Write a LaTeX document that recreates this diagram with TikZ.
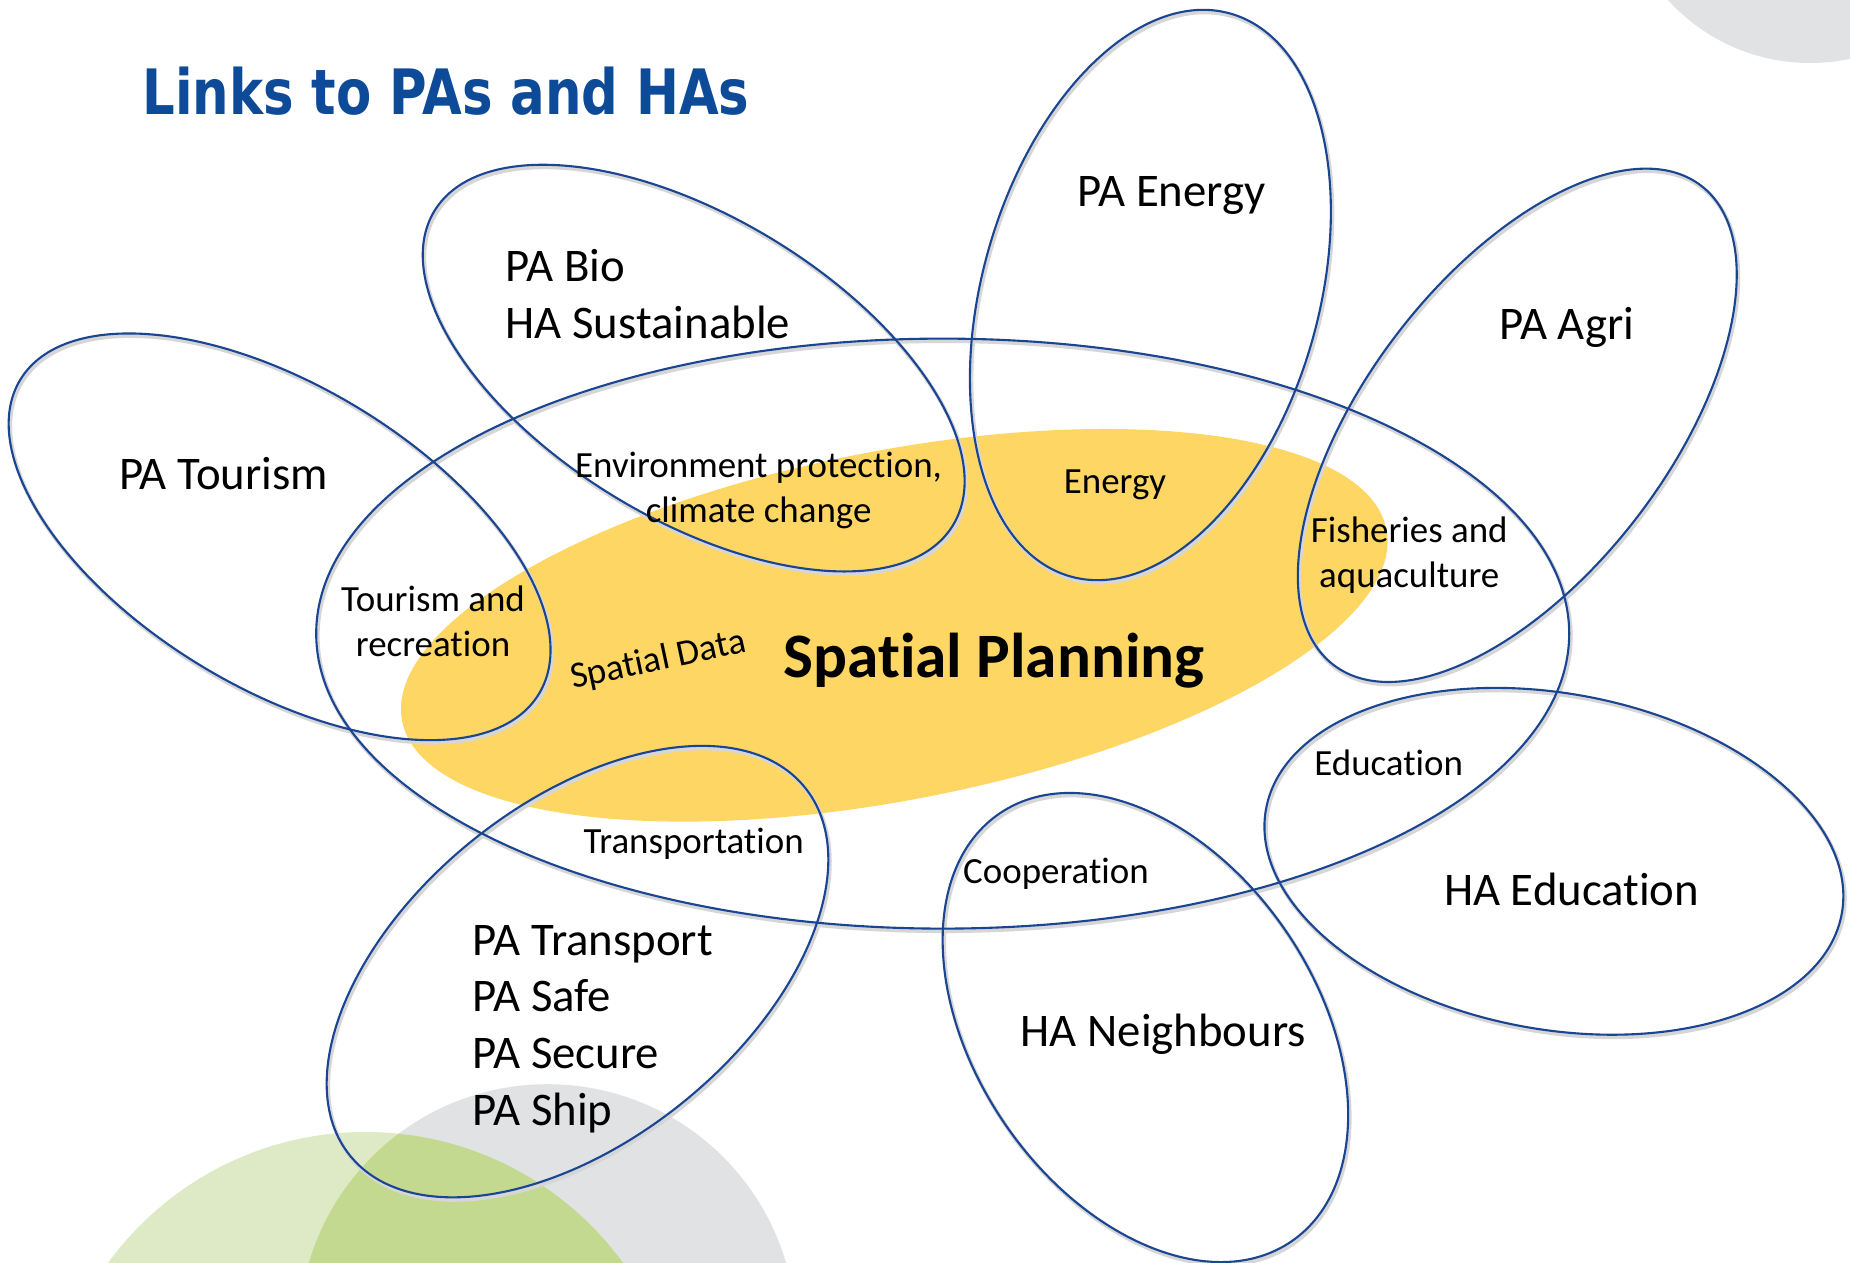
\documentclass[tikz,border=0pt]{standalone}
\usepackage{fontspec}
\setmainfont{Carlito}[Ligatures={NoCommon}]
\newfontfamily\titlefont[FakeStretch=0.82]{DejaVu Sans}
\definecolor{eblue}{HTML}{1A4592}
\definecolor{spyellow}{HTML}{FDD664}
\definecolor{bggray}{HTML}{E1E2E3}
\definecolor{lgreen}{HTML}{DEE9C6}
\definecolor{dgreen}{HTML}{C2D98F}
\definecolor{titleblue}{HTML}{0D4A98}
\tikzset{
  blueline/.style={draw=eblue, line width=0.6pt},
  shadowline/.style={draw=black!16, line width=1.1pt},
  biglabel/.style={font=\fontsize{13.3}{16.1}\selectfont, inner sep=0pt},
  smalllabel/.style={font=\fontsize{10.5}{12.75}\selectfont, inner sep=0pt},
}
\begin{document}
\begin{tikzpicture}[x=0.01cm,y=-0.01cm]
\useasboundingbox (0,0) rectangle (1850,1263);
\clip (0,0) rectangle (1850,1263);
\fill[white] (0,0) rectangle (1850,1263);
% background decoration
\fill[bggray] (1810,-128.5) circle [radius=191.5];
\fill[bggray] (547.5,1332.7) circle [radius=248.5];
\fill[lgreen] (365.5,1450.6) circle [radius=318.6];
\begin{scope}
  \clip (547.5,1332.7) circle [radius=248.5];
  \fill[dgreen] (365.5,1450.6) circle [radius=318.6];
\end{scope}
% spatial planning core
\fill[spyellow, rotate around={11:(894.3,625.3)}] (894.3,625.3) ellipse [x radius=501.4, y radius=174.6];
% outlines
\foreach \cx/\cy/\a/\b/\t in {
  942.7/633.6/626.5/295/0,
  693.7/368.1/303.2/151/-31.2,
  279.6/536.8/303.2/151/-31.2,
  1150.4/295/292.6/168.1/74.1,
  1517.3/425.3/302/151/52.5,
  577.5/971.6/292.6/168/39,
  1553.9/861.3/292.6/168/-10.3,
  1145.4/1027.5/259/170.4/-55.7}{
  \draw[shadowline, shift={(1.5,2.5)}, rotate around={\t:(\cx,\cy)}] (\cx,\cy) ellipse [x radius=\a, y radius=\b];
}
\foreach \cx/\cy/\a/\b/\t in {
  942.7/633.6/626.5/295/0,
  693.7/368.1/303.2/151/-31.2,
  279.6/536.8/303.2/151/-31.2,
  1150.4/295/292.6/168.1/74.1,
  1517.3/425.3/302/151/52.5,
  577.5/971.6/292.6/168/39,
  1553.9/861.3/292.6/168/-10.3,
  1145.4/1027.5/259/170.4/-55.7}{
  \draw[blueline, rotate around={\t:(\cx,\cy)}] (\cx,\cy) ellipse [x radius=\a, y radius=\b];
}
% title
\node[anchor=base west, inner sep=0pt, text=titleblue, font=\titlefont\bfseries\fontsize{17.8}{20}\selectfont] (title) at (141.6,114.4) {Links to PAs and HAs};
% labels (multi-line nodes: base = baseline of last line)
\node[biglabel, anchor=base] (paenergy) at (1171.6,206.1) {PA Energy};
\node[biglabel, anchor=base] (paagri) at (1566.8,339.4) {PA Agri};
\node[biglabel, anchor=base] (patourism) at (223.6,489.3) {PA Tourism};
\node[biglabel, anchor=base] (haedu) at (1571.6,905.8) {HA Education};
\node[biglabel, anchor=base] (hanb) at (1163.3,1046.2) {HA Neighbours};
\node[biglabel, anchor=base west, align=left] (pabio) at (505,338.2) {PA Bio\\HA Sustainable};
\node[biglabel, anchor=base west, align=left] (patrans) at (472,1125.2) {PA Transport\\PA Safe\\PA Secure\\PA Ship};
\node[smalllabel, anchor=base, align=center] (env) at (758.6,522.7) {Environment protection,\\climate change};
\node[smalllabel, anchor=base] (energy) at (1115,493.2) {Energy};
\node[smalllabel, anchor=base, align=center] (fish) at (1409.3,587) {Fisheries and\\aquaculture};
\node[smalllabel, anchor=base, align=center] (tour) at (433,656) {Tourism and\\recreation};
\node[smalllabel, rotate=12] (sdata) at (658.4,660.7) {Spatial Data};
\node[font=\bfseries\fontsize{18}{21}\selectfont, inner sep=0pt, anchor=base] (sp) at (994,677.7) {Spatial Planning};
\node[smalllabel, anchor=base] (edu) at (1388.7,775.2) {Education};
\node[smalllabel, anchor=base] (transp) at (693.7,853) {Transportation};
\node[smalllabel, anchor=base] (coop) at (1056,883.7) {Cooperation};
\end{tikzpicture}
\end{document}
